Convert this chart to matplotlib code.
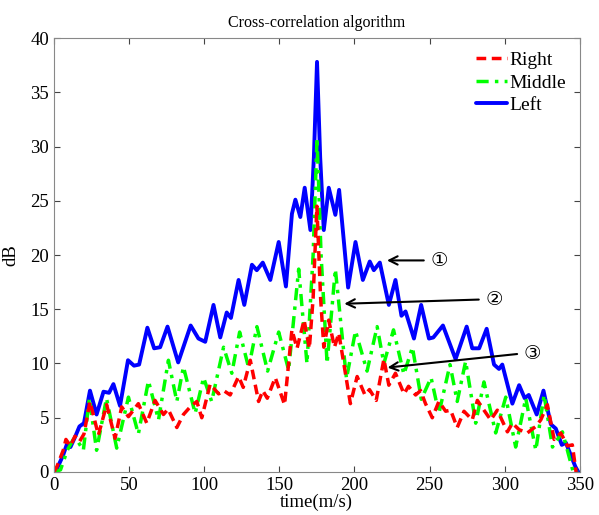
import matplotlib
matplotlib.use("Agg")
import matplotlib.pyplot as plt

# Left (blue, solid)
left_x = [0, 2, 6, 9, 11, 14, 17, 20, 24, 28.4, 33, 36.7, 39.6, 44, 49.3, 53.3, 56.7,
          62.2, 66.7, 70.7, 75.6, 82.7, 91, 96.2, 100.7, 106.2, 110.7, 115, 117.8, 122.9,
          126.7, 131.8, 135, 139, 144, 149.6, 154.4, 158.4, 160.7, 164, 166.9, 170.7, 173,
          175.1, 177.2, 179.6, 182.9, 187.3, 189.8, 195.8, 200.7, 205.6, 210.2, 212.9,
          216.9, 222.9, 227.3, 231.3, 234, 239.6, 244.4, 249.6, 252.5, 258.9, 267.3, 274.7,
          278.4, 283, 288, 292.9, 296.2, 298.4, 305.1, 309.6, 313.3, 316, 321.3, 325.8,
          330.7, 334, 338, 340.7, 347, 349]
left_y = [0, 0.3, 1.5, 2.7, 2.3, 3.2, 4.2, 4.5, 7.5, 5.3, 7.4, 7.3, 8.1, 6.1, 10.3, 9.8, 9.9,
          13.3, 11.4, 11.5, 13.4, 10.1, 13.5, 12.3, 12.0, 15.4, 12.4, 14.7, 14.2, 17.7,
          15.4, 19.1, 18.6, 19.3, 17.7, 21.2, 17.1, 23.8, 25.1, 23.5, 26.2, 22.3, 29,
          37.8, 29, 22.3, 26.2, 23.7, 26.0, 17.0, 21.2, 17.7, 19.4, 18.6,
          19.3, 15.4, 17.7, 14.4, 14.8, 12.3, 15.4, 12.3, 12.4, 13.5, 10.4, 13.4,
          11.4, 11.4, 13.2, 9.9, 9.5, 9.9, 6.3, 8.0, 6.8, 7.1, 5.3, 7.5,
          4.4, 4.0, 2.5, 2.7, 0.5, 0]

# Middle (green, dash-dot)
mid_x = [0, 4.4, 8.9, 12.9, 16, 19.6, 23.6, 28.4, 35, 41.8, 49.6, 56.2, 62.9, 69.6, 76.2,
         81.8, 86.2, 94, 99.6, 105, 112.9, 118.4, 123.6, 129.6, 135.1, 142.2, 149.6, 156.2,
         162.9, 168.4, 172.5, 175.1, 177.8, 181.8, 187.3, 194.7, 200.7, 208.4, 215.1, 219.6,
         226, 232.9, 238.6, 244.5, 251, 256.2, 263.6, 268.4, 274, 280.7, 286.2, 294, 300.7,
         307.3, 314, 320.7, 326.2, 331.8, 338.4, 345.6, 349]
mid_y = [0, 0.2, 2.0, 3.0, 2.8, 2.0, 6.8, 2.0, 6.8, 2.2, 6.9, 3.5, 8.4, 4.8, 10.3,
         6.5, 9.7, 5.4, 8.7, 6.5, 11.5, 9.1, 12.9, 9.6, 13.4, 9.3, 12.9, 9.4,
         18.7, 10.0, 20, 30.8, 20, 10.0, 18.7, 8.6, 13.0, 9.3, 13.4, 10.0,
         13.1, 9.0, 11.5, 6.7, 8.7, 5.4, 9.9, 6.5, 10.2, 4.5, 8.3, 3.6, 6.9,
         2.3, 6.8, 2.0, 7.1, 2.3, 3.7, 0, 0]

# Right (red, dashed)
right_x = [0, 2, 6.2, 8, 11, 14, 17, 20, 24, 29.6, 35.1, 40.7, 45.1, 49.6, 56.2, 61.8, 67.3,
           72.9, 76, 81.8, 86.2, 90.7, 95.1, 98.4, 104, 109.6, 113, 117.3, 122.9, 126, 130.7,
           136.2, 139, 142, 147.3, 153.5, 158.4, 161.8, 166.5, 170, 172.5, 175, 177.5, 179.6,
           182.9, 186.7, 189.6, 197.3, 201.8, 207, 210, 214.5, 219.6, 222.9, 227.3, 233, 236,
           240.7, 244, 247.3, 251.8, 256.2, 260.7, 264, 268.4, 272.9, 278.4, 281.8, 286.2,
           290.7, 295.1, 301.8, 305.1, 309.6, 315.1, 320.7, 324, 328.4, 332.9, 337.3, 341.8,
           345, 347.5]
right_y = [0, 0.5, 2.0, 3.0, 2.4, 3.3, 2.8, 3.5, 6.5, 3.4, 6.2, 3.1, 6.0, 5.1, 6.3, 4.5, 6.6,
           5.3, 5.8, 4.1, 5.3, 6.0, 6.5, 5.0, 8.1, 7.2, 7.5, 7.1, 8.8, 7.8, 10.3,
           6.5, 7.5, 6.8, 8.7, 6.2, 13.1, 11.4, 14.0, 11.4, 16, 24.5, 16, 11.5,
           14.0, 11.5, 12.8, 6.3, 8.8, 7.1, 7.6, 6.6, 10.4, 8.0, 9.1, 7.2, 7.9,
           7.1, 7.5, 6.3, 5.0, 6.5, 5.6, 5.7, 4.1, 5.6, 4.8, 6.6, 5.7,
           4.8, 5.7, 3.7, 4.5, 3.9, 3.6, 4.2, 4.8, 6.2, 3.0, 3.6, 2.4,
           2.5, 0]

# annotations: (label, arrow tip, arrow tail)
notes = [("①", (219.8, 19.5), (248, 19.5)),
         ("②", (191.4, 15.5), (284.6, 15.9)),
         ("③", (220.2, 9.6), (310.1, 10.9))]

plt.rcParams['font.family'] = 'Liberation Serif'

fig = plt.figure(figsize=(5.99, 5.15), dpi=100)
ax = fig.add_axes([0.090, 0.0835, 0.878, 0.8427])

l_left, = ax.plot(left_x, left_y, color='#0000ff', lw=2.8,
                  solid_joinstyle='round', solid_capstyle='round', label='Left')
l_mid, = ax.plot(mid_x, mid_y, color='#00ff00', lw=2.5, ls=(0, (3.5, 1.8, 1, 1.8)),
                 dash_joinstyle='round', label='Middle')
l_right, = ax.plot(right_x, right_y, color='#ff0000', lw=2.5, ls=(0, (2.8, 1.6)),
                   dash_joinstyle='round', label='Right')

for lab, tip, tail in notes:
    ax.annotate('', xy=tip, xytext=tail,
                arrowprops=dict(arrowstyle='->', color='black', lw=1.5, mutation_scale=15))
    ax.text(tail[0] + 2.5, tail[1], lab, fontsize=14, va='center', ha='left',
            family=['DejaVu Sans', 'Noto Sans CJK SC'])

ax.set_xlim(0, 350)
ax.set_ylim(0, 40)
ax.set_xticks(range(0, 351, 50))
ax.set_yticks(range(0, 41, 5))
ax.tick_params(direction='in', top=True, right=True, labelsize=13.5, length=4, color='#444444')
for s in ax.spines.values():
    s.set_color('#888888')

ax.set_title('Cross-correlation algorithm', fontsize=11.5, pad=8)
ax.set_xlabel('time(m/s)', fontsize=13.5, labelpad=0)
ax.set_ylabel('dB', fontsize=13.5, labelpad=8)

ax.legend([l_right, l_mid, l_left], ['Right', 'Middle', 'Left'], loc='upper right',
          frameon=False, fontsize=14, handlelength=1.6, handletextpad=0.15,
          labelspacing=0.25, borderaxespad=0.3)

fig.savefig('out.png', dpi=100)
